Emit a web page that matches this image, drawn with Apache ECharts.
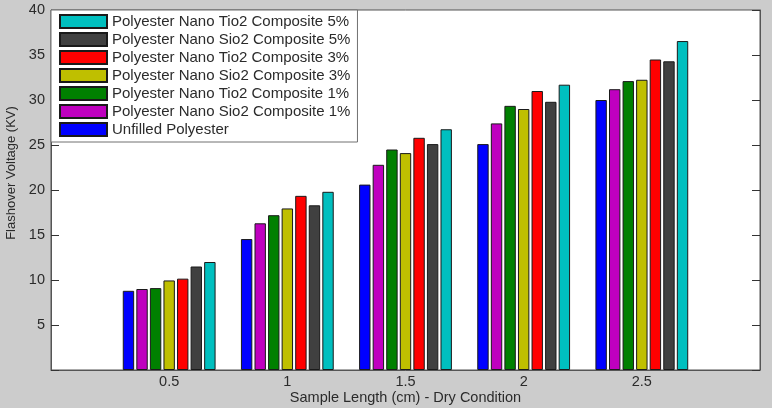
<!DOCTYPE html>
<html lang="en">
<head>
    <meta charset="UTF-8">
    <title>Flashover Voltage - Dry Condition</title>
    <script src="https://cdn.jsdelivr.net/npm/echarts@6/dist/echarts.min.js"></script>
    <style>
        html, body { margin: 0; padding: 0; background: #cccccc; }
    </style>
</head>
<body>
<div id="main" style="width: 772px;height:408px;"></div>
<script>
    // sample lengths (cm)
    var lengths = [0.5, 1, 1.5, 2, 2.5];

    // flashover voltage (KV)
    var unfilled = [8.8, 14.55, 20.6, 25.1, 30.0];
    var sio2_1 = [9.0, 16.3, 22.8, 27.4, 31.2];
    var tio2_1 = [9.1, 17.2, 24.5, 29.35, 32.1];
    var sio2_3 = [9.95, 17.95, 24.1, 29.0, 32.25];
    var tio2_3 = [10.15, 19.35, 25.8, 31.0, 34.5];
    var sio2_5 = [11.5, 18.3, 25.1, 29.8, 34.3];
    var tio2_5 = [12.0, 19.8, 26.75, 31.7, 36.55];

    var seriesNames = [
        'Unfilled Polyester',
        'Polyester Nano Sio2 Composite 1%',
        'Polyester Nano Tio2 Composite 1%',
        'Polyester Nano Sio2 Composite 3%',
        'Polyester Nano Tio2 Composite 3%',
        'Polyester Nano Sio2 Composite 5%',
        'Polyester Nano Tio2 Composite 5%'
    ];
    var seriesData = [unfilled, sio2_1, tio2_1, sio2_3, tio2_3, sio2_5, tio2_5];
    var colors = ['#0000ff', '#bf00bf', '#008000', '#bfbf00', '#ff0000', '#404040', '#00bfbf'];

    var font = 'Liberation Sans, Arial, sans-serif';
    var textColor = '#2b2b2b';

    var series = [];
    for (var i = 0; i < seriesData.length; i++) {
        var pts = [];
        for (var j = 0; j < lengths.length; j++) {
            pts.push([lengths[j], seriesData[i][j]]);
        }
        series.push({
            name: seriesNames[i],
            type: 'bar',
            data: pts,
            barWidth: 11.4,
            barGap: '19%',
            itemStyle: { color: colors[i], borderColor: '#1a1a1a', borderWidth: 1 }
        });
    }

    var myChart = echarts.init(document.getElementById('main'));

    var option = {
        animation: false,
        backgroundColor: '#cccccc',
        textStyle: { fontFamily: font },
        grid: {
            left: 51, top: 10, right: 12, bottom: 38,
            outerBoundsMode: 'none',
            show: true,
            backgroundColor: '#ffffff',
            borderColor: '#555555',
            borderWidth: 1
        },
        legend: {
            orient: 'vertical',
            left: 51,
            top: 10,
            data: seriesNames.slice().reverse(),
            itemWidth: 47,
            itemHeight: 13,
            itemGap: 3,
            padding: [4, 7, 5, 8],
            backgroundColor: '#ffffff',
            borderColor: '#707070',
            borderWidth: 1,
            borderRadius: 0,
            icon: 'rect',
            textStyle: { fontFamily: font, fontSize: 15, color: textColor }
        },
        xAxis: {
            type: 'value',
            min: 0,
            max: 3,
            interval: 0.5,
            name: 'Sample Length (cm) - Dry Condition',
            nameLocation: 'middle',
            nameGap: 20,
            nameMoveOverlap: false,
            nameTextStyle: { fontFamily: font, fontSize: 14.5, color: textColor },
            axisLine: { show: true, lineStyle: { color: '#555555' } },
            axisTick: { show: false },
            splitLine: { show: false },
            axisLabel: {
                margin: 4,
                fontFamily: font, fontSize: 14.5, color: textColor,
                formatter: function (v) {
                    return (v === 0 || v === 3) ? '' : String(v);
                }
            }
        },
        yAxis: [{
            type: 'value',
            min: 0,
            max: 40,
            interval: 5,
            name: 'Flashover Voltage (KV)',
            nameLocation: 'middle',
            nameGap: 32,
            nameTextStyle: { fontFamily: font, fontSize: 13, color: textColor, padding: [0, 0, 0, 34] },
            axisLine: { show: true, lineStyle: { color: '#555555' } },
            axisTick: { show: true, inside: true, length: 8, lineStyle: { color: '#333333' } },
            splitLine: { show: false },
            axisLabel: {
                margin: 6,
                fontFamily: font, fontSize: 14.5, color: textColor,
                formatter: function (v) { return v === 0 ? '' : String(v); }
            }
        }, {
            type: 'value',
            position: 'right',
            min: 0,
            max: 40,
            interval: 5,
            axisLine: { show: true, lineStyle: { color: '#555555' } },
            axisTick: { show: true, inside: true, length: 8, lineStyle: { color: '#333333' } },
            splitLine: { show: false },
            axisLabel: { show: false }
        }],
        series: series
    };

    myChart.setOption(option);
</script>
</body>
</html>
